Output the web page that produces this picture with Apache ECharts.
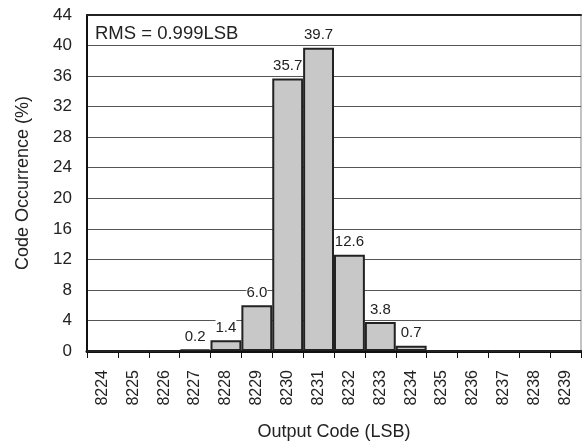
<!DOCTYPE html>
<html>
<head>
<meta charset="utf-8">
<script src="https://cdn.jsdelivr.net/npm/echarts@6/dist/echarts.min.js"></script>
<style>html,body{margin:0;padding:0;background:#fff;}#c{width:582px;height:444px;}</style>
</head>
<body>
<div id="c"></div>
<script>
const categories = ['8224','8225','8226','8227','8228','8229','8230','8231','8232','8233','8234','8235','8236','8237','8238','8239'];
const occurrence = [0, 0, 0, 0.2, 1.4, 6.0, 35.7, 39.7, 12.6, 3.8, 0.7, 0, 0, 0, 0, 0];
const yTicks = { min: 0, max: 44, step: 4 };
const annotation = 'RMS = 0.999LSB';

const FONT = 'Liberation Sans, Arial, Helvetica, sans-serif';
const chart = echarts.init(document.getElementById('c'), null, { renderer: 'canvas' });
chart.setOption({
  animation: false,
  backgroundColor: '#fff',
  textStyle: { fontFamily: FONT, color: '#222' },
  title: {
    text: annotation, left: 90, top: 19,
    textStyle: { fontFamily: FONT, fontSize: 18.5, fontWeight: 'normal', color: '#222' }
  },
  grid: { left: 87, right: 1, top: 15, bottom: 93, show: true, borderColor: '#888', borderWidth: 1,
          outerBoundsMode: 'none', containLabel: false },
  xAxis: [{
    type: 'category', data: categories, boundaryGap: true,
    name: 'Output Code (LSB)', nameLocation: 'middle', nameGap: 72,
    nameTextStyle: { fontFamily: FONT, fontSize: 18, color: '#222' },
    axisLine: { lineStyle: { color: '#111', width: 3 } },
    axisTick: { show: true, length: 7, lineStyle: { color: '#111', width: 1 } },
    axisLabel: { rotate: 90, fontFamily: FONT, fontSize: 16, color: '#222', margin: 19 }
  }, {
    type: 'category', data: categories, position: 'top',
    axisLine: { lineStyle: { color: '#222', width: 2 } },
    axisTick: { show: false }, axisLabel: { show: false }
  }],
  yAxis: {
    type: 'value', min: yTicks.min, max: yTicks.max, interval: yTicks.step,
    name: 'Code Occurrence (%)', nameLocation: 'middle', nameGap: 55,
    nameTextStyle: { fontFamily: FONT, fontSize: 18, color: '#222' },
    axisLine: { show: true, lineStyle: { color: '#111', width: 2 } },
    axisTick: { show: false },
    axisLabel: { fontFamily: FONT, fontSize: 17, color: '#222', margin: 15 },
    splitLine: { show: true, lineStyle: { color: '#555', width: 1 } }
  },
  series: [{
    type: 'bar', data: occurrence, barCategoryGap: '0%', xAxisIndex: 0,
    itemStyle: { color: '#c8c8c8', borderColor: '#222', borderWidth: 2 },
    label: {
      show: true, position: 'top', distance: 4,
      fontFamily: FONT, fontSize: 15, color: '#222',
      backgroundColor: '#fff', padding: [1, 0],
      formatter: p => p.value > 0 ? p.value.toFixed(1) : ''
    }
  }]
});
</script>
</body>
</html>
